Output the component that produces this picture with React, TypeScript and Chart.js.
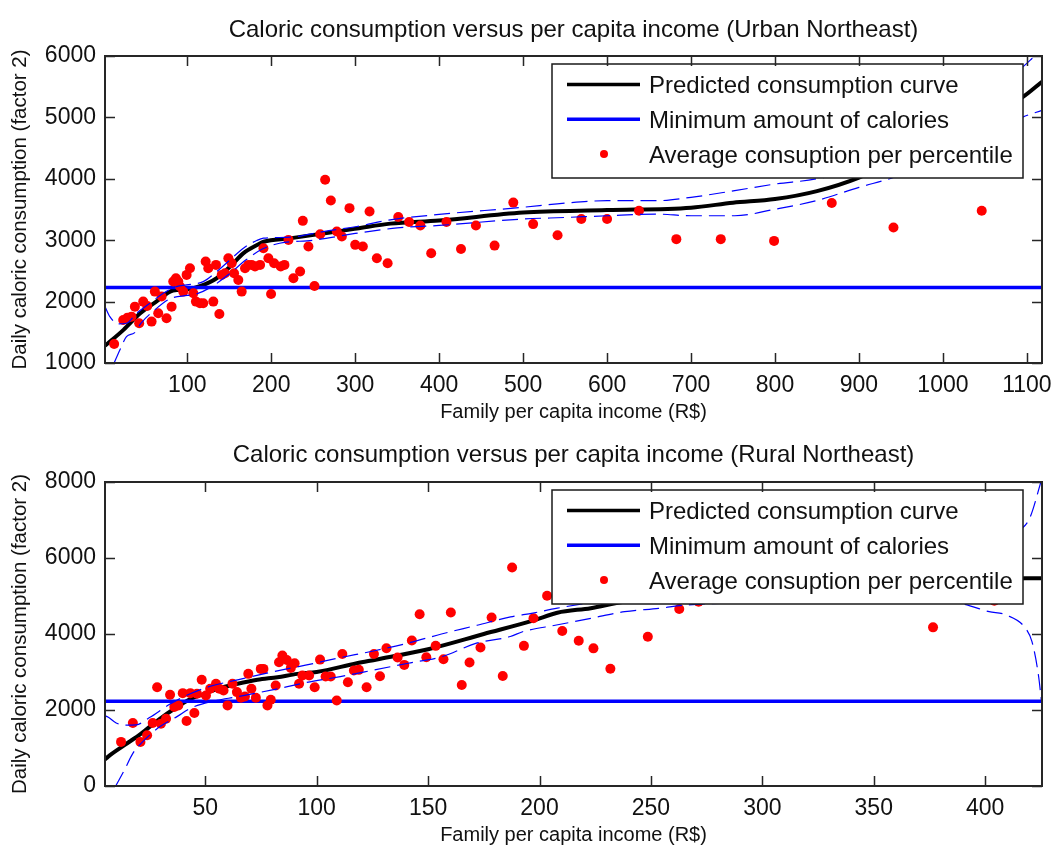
import React, { useEffect, useRef } from 'react';
import { Chart, registerables } from 'chart.js';

Chart.register(...registerables);

const FONT = "'Liberation Sans', Arial, Helvetica, sans-serif";
const TEXT = '#111111';

// ---------- Text ----------
const URBAN_TITLE = 'Caloric consumption versus per capita income (Urban Northeast)';
const RURAL_TITLE = 'Caloric consumption versus per capita income (Rural Northeast)';
const X_LABEL = 'Family per capita income (R$)';
const Y_LABEL = 'Daily caloric consumption (factor 2)';
const LEGEND_LABELS = [
  'Predicted consumption curve',
  'Minimum amount of calories',
  'Average consuption per percentile',
];

// ---------- Shared ----------
const MIN_CALORIES = 2230;

// ---------- Urban Northeast ----------
const URBAN_POINTS_X = [12.9, 23.7, 28.8, 33.6, 37.6, 42.7, 47.5, 52.3, 57.5, 61.4, 65.4, 69.4, 75.3, 81.3, 83.3, 86.5, 89.3, 91.3, 95.2, 99.2, 103.2, 107.2, 110.3, 115.1, 119, 121.9, 125, 131, 134.2, 138.2, 141, 144.9, 148.9, 152.9, 155.7, 160.8, 164.8, 168.8, 172.8, 176.7, 180.7, 186.7, 190.7, 196.6, 199.8, 203.4, 211.3, 215.7, 220.5, 226.4, 234.4, 237.6, 244.3, 251.5, 258.3, 264.2, 271, 278.1, 284.1, 293.2, 300, 309.1, 317.1, 325.8, 338.6, 351.3, 364.2, 377.6, 390.5, 408.7, 426, 443.8, 466, 488.3, 511.9, 541, 569.3, 600, 638, 682.5, 735.4, 798.9, 867.6, 941.1, 1046.2];
const URBAN_POINTS_Y = [1310, 1701, 1739, 1755, 1918, 1647, 2000, 1929, 1674, 2163, 1810, 2082, 1728, 1918, 2326, 2380, 2326, 2245, 2163, 2435, 2543, 2136, 2000, 1973, 1973, 2652, 2543, 2000, 2598, 1799, 2435, 2462, 2706, 2625, 2462, 2353, 2163, 2543, 2598, 2598, 2571, 2598, 2870, 2706, 2125, 2625, 2571, 2598, 3005, 2380, 2489, 3315, 2897, 2255, 3098, 3984, 3647, 3141, 3060, 3522, 2924, 2897, 3467, 2706, 2625, 3377, 3295, 3240, 2787, 3295, 2858, 3240, 2912, 3612, 3262, 3082, 3344, 3344, 3480, 3017, 3017, 2989, 3605, 3207, 3480];

const URBAN_CURVE_X = [2, 24, 44, 63, 83, 100, 115, 135, 151, 167, 183, 191, 222, 262, 302, 342, 400, 500, 600, 700, 750, 800, 850, 900, 950, 1000, 1050, 1095, 1118];
const URBAN_CURVE_Y = [1280, 1540, 1810, 2000, 2180, 2200, 2250, 2380, 2570, 2790, 2920, 2975, 3030, 3110, 3190, 3270, 3320, 3450, 3490, 3530, 3610, 3670, 3800, 4020, 4350, 4700, 5000, 5330, 5580];

const URBAN_UPPER_X = [2, 7.8, 17.7, 27.6, 39.6, 55.5, 71.4, 87.3, 99.2, 119, 135, 150.9, 166.8, 182.7, 190.7, 222.5, 262, 302, 341.7, 400, 498, 550, 600, 659, 700, 752, 801, 849, 950, 1000, 1050, 1104, 1118];
const URBAN_UPPER_Y = [1918, 1755, 1636, 1647, 1810, 1973, 2136, 2245, 2272, 2326, 2489, 2679, 2870, 2995, 3033, 3049, 3141, 3223, 3331, 3420, 3534, 3605, 3643, 3643, 3698, 3807, 3916, 3998, 4350, 4850, 5350, 5932, 6150];

const URBAN_LOWER_X = [12.9, 19.7, 27.6, 37, 45, 60, 80, 100, 110, 130, 150, 170, 190, 210, 250, 300, 350, 400, 498, 550, 600, 659, 700, 752, 801, 849, 900, 942, 1000, 1050, 1095, 1118];
const URBAN_LOWER_Y = [1000, 1212, 1430, 1490, 1650, 1850, 2050, 2100, 2120, 2250, 2450, 2680, 2860, 2950, 3000, 3110, 3200, 3240, 3344, 3370, 3398, 3425, 3398, 3398, 3507, 3643, 3861, 4025, 4350, 4700, 5005, 5115];

// ---------- Rural Northeast ----------
const RURAL_POINTS_X = [12.2, 17.5, 20.9, 23.9, 26.4, 28.4, 30.1, 32.4, 34.2, 36.1, 37.9, 39.9, 41.6, 43.3, 45.1, 46.3, 48.4, 50.3, 52.2, 54.8, 56.3, 58.2, 60, 62.2, 64.2, 66, 67.8, 69.3, 70.7, 72.7, 74.9, 76.1, 77.9, 79.4, 81.6, 83.1, 84.6, 86.6, 88.4, 90.1, 92.1, 93.6, 96.6, 99.1, 101.5, 104, 106.3, 109, 111.5, 114, 116.7, 118.9, 122.4, 125.7, 128.4, 131.3, 136.3, 139.3, 142.7, 146.2, 149.2, 153.4, 156.9, 160.2, 165.1, 168.6, 173.5, 178.5, 183.5, 187.7, 193, 197.3, 203.4, 210.2, 217.6, 224.2, 231.8, 248.6, 262.7, 271.4, 376.6, 404.1];
const RURAL_POINTS_Y = [1161, 1659, 1161, 1336, 1659, 2601, 1641, 1772, 2401, 2078, 2121, 2444, 1711, 2444, 1921, 2427, 2794, 2383, 2558, 2689, 2558, 2514, 2121, 2689, 2471, 2322, 2357, 2951, 2558, 2322, 3082, 3082, 2121, 2270, 2645, 3256, 3431, 3317, 3108, 3230, 2689, 2907, 2907, 2601, 3326, 2881, 2881, 2252, 3474, 2732, 3038, 3056, 2601, 3474, 2890, 3623, 3380, 3187, 3828, 4522, 3389, 3688, 3336, 4566, 2660, 3249, 3644, 4434, 2897, 5751, 3688, 4416, 5008, 4078, 3824, 3622, 3087, 3929, 4657, 4850, 4175, 4876];

const RURAL_CURVE_X = [5, 6.3, 13.7, 21.2, 28.7, 36.1, 43.6, 49.6, 55.5, 64.5, 73.4, 82.4, 91.3, 100, 118, 127, 150, 175, 197, 208, 223, 238, 260, 300, 350, 400, 418, 425.5];
const RURAL_CURVE_Y = [700, 768, 1074, 1379, 1729, 2034, 2296, 2427, 2558, 2689, 2794, 2863, 2951, 3000, 3230, 3330, 3600, 4000, 4350, 4560, 4680, 4850, 4950, 5150, 5300, 5430, 5470, 5470];

const RURAL_UPPER_X = [5, 6.3, 10, 13.7, 19, 25, 34, 43, 52, 65, 80, 95, 110, 126, 141, 156, 172, 187, 197, 208, 250, 300, 350, 400, 415, 420, 425.5];
const RURAL_UPPER_Y = [1850, 1816, 1660, 1600, 1610, 1800, 2150, 2420, 2620, 2800, 3000, 3180, 3370, 3560, 3760, 4000, 4230, 4450, 4550, 4680, 5050, 5250, 5500, 6100, 6700, 7050, 8100];

const RURAL_LOWER_X = [9.8, 13.7, 17.5, 22, 29.7, 37.3, 43.4, 52.6, 64.8, 80.1, 95.3, 110.6, 125.9, 141.1, 156.4, 171.7, 186.9, 192.4, 207.6, 223, 238.2, 253.5, 265.7, 300, 350, 388, 401.8, 409.5, 418.7, 421, 424, 425.5];
const RURAL_LOWER_Y = [0, 419, 860, 1168, 1563, 1826, 2046, 2221, 2353, 2529, 2722, 2880, 3055, 3231, 3407, 3758, 3933, 4060, 4236, 4411, 4587, 4674, 4762, 4830, 4860, 4806, 4587, 4499, 4104, 3800, 2876, 2087];

// ---------- helpers ----------
const toXY = (xs: number[], ys: number[]) => xs.map((x, i) => ({ x, y: ys[i] }));

const framePlugin = {
  id: 'matlabFrame',
  afterDraw(chart: any) {
    const { ctx, chartArea, scales } = chart;
    const { left, right, top, bottom } = chartArea;
    ctx.save();
    ctx.strokeStyle = '#262626';
    ctx.lineWidth = 1.5;
    ctx.beginPath();
    const L = 10;
    scales.x.ticks.forEach((t: any) => {
      const px = Math.round(scales.x.getPixelForValue(t.value)) + 0.5;
      ctx.moveTo(px, bottom);
      ctx.lineTo(px, bottom - L);
      ctx.moveTo(px, top);
      ctx.lineTo(px, top + L);
    });
    scales.y.ticks.forEach((t: any) => {
      const py = Math.round(scales.y.getPixelForValue(t.value)) + 0.5;
      ctx.moveTo(left, py);
      ctx.lineTo(left + L, py);
      ctx.moveTo(right, py);
      ctx.lineTo(right - L, py);
    });
    ctx.stroke();
    ctx.lineWidth = 2;
    ctx.strokeRect(left, top, right - left, bottom - top);
    ctx.restore();
  },
};

const legendPlugin = {
  id: 'boxLegend',
  afterDatasetsDraw(chart: any) {
    const { ctx, chartArea } = chart;
    const left = chartArea.right - 490;
    const top = chartArea.top + 8;
    const w = 471;
    const h = 114;
    ctx.save();
    ctx.fillStyle = '#ffffff';
    ctx.fillRect(left, top, w, h);
    ctx.strokeStyle = '#1a1a1a';
    ctx.lineWidth = 1.5;
    ctx.strokeRect(left, top, w, h);
    ctx.font = `24px ${FONT}`;
    ctx.textBaseline = 'middle';
    ctx.textAlign = 'left';
    LEGEND_LABELS.forEach((label, i) => {
      const y = top + 22.5 + 34.7 * i;
      if (i === 0 || i === 1) {
        ctx.strokeStyle = i === 0 ? '#000000' : '#0000ff';
        ctx.lineWidth = 3.5;
        ctx.beginPath();
        ctx.moveTo(left + 15, y - 2);
        ctx.lineTo(left + 88, y - 2);
        ctx.stroke();
      } else {
        ctx.fillStyle = '#ff0000';
        ctx.beginPath();
        ctx.arc(left + 52, y - 2, 4, 0, Math.PI * 2);
        ctx.fill();
      }
      ctx.fillStyle = TEXT;
      ctx.fillText(label, left + 97, y);
    });
    ctx.restore();
  },
};

type Panel = {
  title: string;
  titlePad: { top: number; bottom: number };
  xMin: number;
  xMax: number;
  xStep: number;
  yMin: number;
  yMax: number;
  yStep: number;
  curve: { x: number; y: number }[];
  upper: { x: number; y: number }[];
  lower: { x: number; y: number }[];
  points: { x: number; y: number }[];
};

const PANELS: Panel[] = [
  {
    title: URBAN_TITLE,
    titlePad: { top: 16, bottom: 11.2 },
    xMin: 2,
    xMax: 1118,
    xStep: 100,
    yMin: 1000,
    yMax: 6000,
    yStep: 1000,
    curve: toXY(URBAN_CURVE_X, URBAN_CURVE_Y),
    upper: toXY(URBAN_UPPER_X, URBAN_UPPER_Y),
    lower: toXY(URBAN_LOWER_X, URBAN_LOWER_Y),
    points: toXY(URBAN_POINTS_X, URBAN_POINTS_Y),
  },
  {
    title: RURAL_TITLE,
    titlePad: { top: 18, bottom: 12.2 },
    xMin: 5,
    xMax: 425.5,
    xStep: 50,
    yMin: 0,
    yMax: 8000,
    yStep: 2000,
    curve: toXY(RURAL_CURVE_X, RURAL_CURVE_Y),
    upper: toXY(RURAL_UPPER_X, RURAL_UPPER_Y),
    lower: toXY(RURAL_LOWER_X, RURAL_LOWER_Y),
    points: toXY(RURAL_POINTS_X, RURAL_POINTS_Y),
  },
];

const plainTick = (v: any) => String(v);

function PanelChart({ panel }: { panel: Panel }) {
  const ref = useRef<HTMLCanvasElement | null>(null);
  useEffect(() => {
    if (!ref.current) return;
    const band = (data: any[]) => ({
      data,
      showLine: true,
      borderColor: '#0000ff',
      borderWidth: 1.2,
      borderDash: [16, 7],
      pointRadius: 0,
      cubicInterpolationMode: 'monotone',
      order: 0,
    });
    const chart = new Chart(ref.current, {
      type: 'scatter',
      data: {
        datasets: [
          band(panel.upper) as any,
          band(panel.lower) as any,
          {
            data: panel.points,
            backgroundColor: '#ff0000',
            borderColor: '#ff0000',
            borderWidth: 0,
            pointRadius: 5,
            showLine: false,
            order: 1,
          },
          {
            data: [
              { x: panel.xMin, y: MIN_CALORIES },
              { x: panel.xMax, y: MIN_CALORIES },
            ],
            showLine: true,
            borderColor: '#0000ff',
            borderWidth: 3.5,
            pointRadius: 0,
            order: 2,
          },
          {
            data: panel.curve,
            showLine: true,
            borderColor: '#000000',
            borderWidth: 4,
            pointRadius: 0,
            cubicInterpolationMode: 'monotone',
            order: 3,
          } as any,
        ],
      },
      options: {
        responsive: false,
        animation: false,
        events: [],
        layout: { padding: { left: 0, right: 12, top: 0, bottom: 0 } },
        plugins: {
          legend: { display: false },
          tooltip: { enabled: false },
          title: {
            display: true,
            text: panel.title,
            fullSize: false,
            color: TEXT,
            font: { family: FONT, size: 24, weight: 'normal', lineHeight: 1.2 },
            padding: panel.titlePad,
          },
        },
        scales: {
          x: {
            type: 'linear',
            position: 'bottom',
            min: panel.xMin,
            max: panel.xMax,
            grid: { display: false, drawTicks: false },
            border: { display: false },
            ticks: {
              stepSize: panel.xStep,
              includeBounds: false,
              autoSkip: false,
              maxRotation: 0,
              padding: 9,
              color: TEXT,
              font: { family: FONT, size: 23 },
              callback: plainTick,
            },
            title: {
              display: true,
              text: X_LABEL,
              color: TEXT,
              font: { family: FONT, size: 20, lineHeight: 1 },
              padding: { top: 0, bottom: 1 },
            },
            afterFit: (s: any) => {
              s.height = 60;
              s.paddingLeft = 0;
              s.paddingRight = 0;
            },
          },
          y: {
            type: 'linear',
            min: panel.yMin,
            max: panel.yMax,
            grid: { display: false, drawTicks: false },
            border: { display: false },
            ticks: {
              stepSize: panel.yStep,
              autoSkip: false,
              padding: 9,
              color: TEXT,
              font: { family: FONT, size: 23 },
              callback: plainTick,
            },
            title: {
              display: true,
              text: Y_LABEL,
              color: TEXT,
              font: { family: FONT, size: 20.5, lineHeight: 1 },
              padding: { top: 10, bottom: 0 },
            },
            afterFit: (s: any) => {
              s.width = 105;
              s.paddingTop = 0;
              s.paddingBottom = 0;
            },
          },
        },
      } as any,
      plugins: [legendPlugin, framePlugin],
    });
    return () => chart.destroy();
  }, [panel]);
  return <canvas ref={ref} width={1054} height={423} style={{ display: 'block' }} />;
}

export default function App() {
  return (
    <div
      style={{
        position: 'absolute',
        left: 0,
        top: 0,
        width: 1054,
        height: 846,
        background: '#ffffff',
        overflow: 'hidden',
      }}
    >
      {PANELS.map((p, i) => (
        <PanelChart key={i} panel={p} />
      ))}
    </div>
  );
}
